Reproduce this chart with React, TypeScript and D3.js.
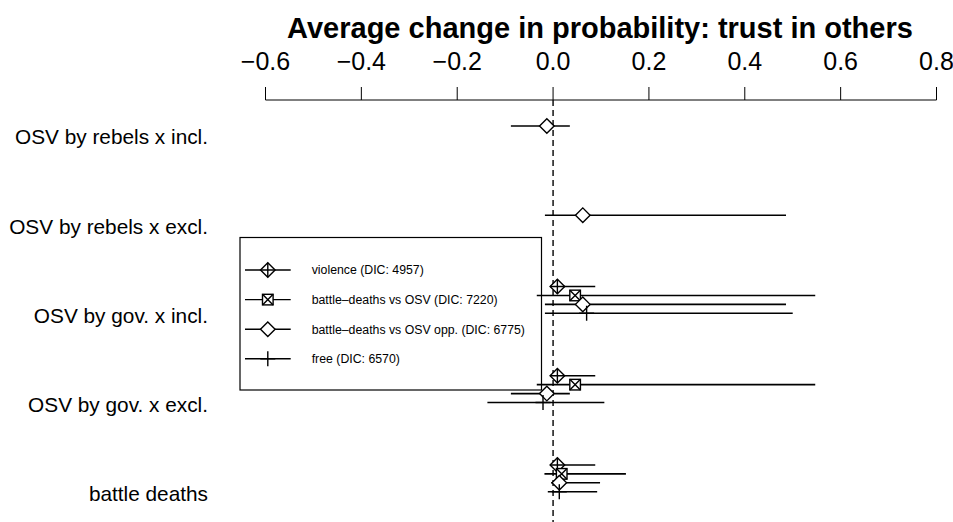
import React, { useRef, useEffect } from "react";
import * as d3 from "d3";

const rowLabels = [
  "OSV by rebels x incl.",
  "OSV by rebels x excl.",
  "OSV by gov. x incl.",
  "OSV by gov. x excl.",
  "battle deaths",
];
const modelNames = [
  "violence (DIC: 4957)",
  "battle\u2013deaths vs OSV (DIC: 7220)",
  "battle\u2013deaths vs OSV opp. (DIC: 6775)",
  "free (DIC: 6570)",
];
const modelShapes = ["diamondPlus", "squareCross", "diamond", "plus"];
const xTicks = [-0.6, -0.4, -0.2, 0.0, 0.2, 0.4, 0.6, 0.8];

// estimates and 95% intervals, one entry per row (null = not in model)
const violenceEst = [null, null, 0.009, 0.009, 0.009];
const violenceLo = [null, null, -0.003, -0.003, -0.003];
const violenceHi = [null, null, 0.088, 0.088, 0.088];

const battleEst = [null, null, 0.046, 0.046, 0.018];
const battleLo = [null, null, -0.034, -0.034, -0.018];
const battleHi = [null, null, 0.547, 0.547, 0.152];

const oppEst = [-0.013, 0.062, 0.062, -0.013, 0.013];
const oppLo = [-0.088, -0.017, -0.017, -0.088, -0.004];
const oppHi = [0.035, 0.486, 0.486, 0.035, 0.098];

const freeEst = [null, null, 0.07, -0.021, 0.013];
const freeLo = [null, null, -0.017, -0.137, -0.011];
const freeHi = [null, null, 0.5, 0.107, 0.092];

const series = [
  { est: violenceEst, lo: violenceLo, hi: violenceHi },
  { est: battleEst, lo: battleLo, hi: battleHi },
  { est: oppEst, lo: oppLo, hi: oppHi },
  { est: freeEst, lo: freeLo, hi: freeHi },
];
const offsets = [-0.3, -0.2, -0.1, 0];

function drawMarker(g, shape, cx, cy) {
  const d = 7.3, s = 5.3, p = 7.5;
  const m = g.append("g").attr("fill", "none").attr("stroke", "#000").attr("stroke-width", 1.4);
  if (shape === "diamond" || shape === "diamondPlus") {
    m.append("path")
      .attr("d", `M${cx - d},${cy}L${cx},${cy - d}L${cx + d},${cy}L${cx},${cy + d}Z`)
      .attr("fill", "#fff");
    if (shape === "diamondPlus") {
      m.append("path").attr("d", `M${cx - d},${cy}H${cx + d}M${cx},${cy - d}V${cy + d}`);
    }
  } else if (shape === "squareCross") {
    m.append("rect").attr("x", cx - s).attr("y", cy - s).attr("width", 2 * s).attr("height", 2 * s).attr("fill", "#fff");
    m.append("path").attr("d", `M${cx - s},${cy - s}L${cx + s},${cy + s}M${cx + s},${cy - s}L${cx - s},${cy + s}`);
  } else {
    m.append("path").attr("d", `M${cx - p},${cy}H${cx + p}M${cx},${cy - p}V${cy + p}`);
  }
}

export default function App() {
  const ref = useRef(null);

  useEffect(() => {
    const width = 953, height = 522;
    const svg = d3.select(ref.current);
    svg.selectAll("*").remove();
    svg.attr("width", width).attr("height", height);

    const x = d3.scaleLinear().domain([-0.6, 0.8]).range([265.5, 936.5]);
    const y = d3.scaleLinear().domain([0, 4]).range([134.9, 491.7]);
    const font = "Liberation Sans, Arial, Helvetica, sans-serif";

    // title
    svg.append("text")
      .attr("x", 600).attr("y", 38)
      .attr("text-anchor", "middle")
      .attr("font-family", font).attr("font-weight", "bold").attr("font-size", 29)
      .text("Average change in probability: trust in others");

    // top axis
    const axisY = 100;
    svg.append("path")
      .attr("d", `M${x(-0.6)},${axisY}H${x(0.8)}`)
      .attr("stroke", "#000").attr("stroke-width", 1);
    svg.selectAll(".tick")
      .data(xTicks)
      .enter()
      .append("line")
      .attr("x1", d => x(d)).attr("x2", d => x(d))
      .attr("y1", axisY).attr("y2", axisY - 13)
      .attr("stroke", "#000").attr("stroke-width", 1);
    svg.selectAll(".ticklab")
      .data(xTicks)
      .enter()
      .append("text")
      .attr("x", d => x(d)).attr("y", 70)
      .attr("text-anchor", "middle")
      .attr("font-family", font).attr("font-size", 25)
      .text(d => d3.format(".1f")(d).replace("-", "\u2013"));

    // zero reference line
    svg.append("line")
      .attr("x1", x(0)).attr("x2", x(0))
      .attr("y1", axisY).attr("y2", height)
      .attr("stroke", "#000").attr("stroke-width", 1.4)
      .attr("stroke-dasharray", "6,4");

    // row labels
    svg.selectAll(".rowlab")
      .data(rowLabels)
      .enter()
      .append("text")
      .attr("x", 208).attr("y", (d, i) => y(i) + 9.5)
      .attr("text-anchor", "end")
      .attr("font-family", font).attr("font-size", 20.8)
      .text(d => d);

    // legend box (drawn before points so points overlay it)
    const lg = svg.append("g");
    lg.append("rect")
      .attr("x", 240).attr("y", 237.5).attr("width", 301.5).attr("height", 152.5)
      .attr("fill", "none").attr("stroke", "#000").attr("stroke-width", 1.2);
    modelNames.forEach((name, k) => {
      const ly = 270 + k * 29.6;
      lg.append("line")
        .attr("x1", 245).attr("x2", 290.7).attr("y1", ly).attr("y2", ly)
        .attr("stroke", "#000").attr("stroke-width", 1.4);
      drawMarker(lg, modelShapes[k], 267.8, ly);
      lg.append("text")
        .attr("x", 311.7).attr("y", ly + 4.3)
        .attr("font-family", font).attr("font-size", 12.3)
        .text(name);
    });

    // intervals and point estimates
    series.forEach((s, k) => {
      s.est.forEach((v, i) => {
        if (v === null) return;
        const yy = y(i + offsets[k]);
        svg.append("line")
          .attr("x1", x(s.lo[i])).attr("x2", x(s.hi[i]))
          .attr("y1", yy).attr("y2", yy)
          .attr("stroke", "#000").attr("stroke-width", 1.6);
        drawMarker(svg, modelShapes[k], x(v), yy);
      });
    });
  }, []);

  return (
    <div style={{ position: "absolute", left: 0, top: 0 }}>
      <svg ref={ref} style={{ display: "block" }}></svg>
    </div>
  );
}
